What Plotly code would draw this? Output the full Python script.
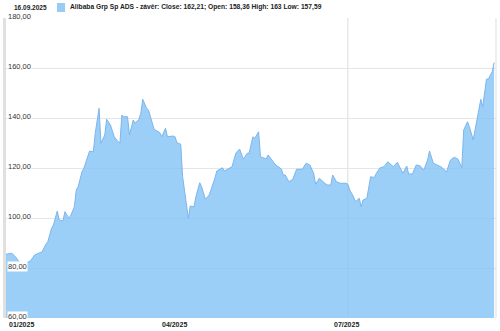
import plotly.graph_objects as go

dates = [
    "2025-01-02", "2025-01-05", "2025-01-07", "2025-01-09", "2025-01-10", "2025-01-13", "2025-01-15",
    "2025-01-17", "2025-01-20", "2025-01-21", "2025-01-23", "2025-01-24", "2025-01-26", "2025-01-27",
    "2025-01-29", "2025-01-30", "2025-02-01", "2025-02-02", "2025-02-04", "2025-02-05", "2025-02-07",
    "2025-02-08", "2025-02-09", "2025-02-11", "2025-02-12", "2025-02-14", "2025-02-15", "2025-02-17",
    "2025-02-18", "2025-02-20", "2025-02-21", "2025-02-23", "2025-02-24", "2025-02-26", "2025-02-28",
    "2025-03-02", "2025-03-03", "2025-03-04", "2025-03-05", "2025-03-07", "2025-03-08", "2025-03-10",
    "2025-03-11", "2025-03-13", "2025-03-14", "2025-03-15", "2025-03-17", "2025-03-18", "2025-03-20",
    "2025-03-21", "2025-03-24", "2025-03-25", "2025-03-27", "2025-03-28", "2025-03-31", "2025-04-01",
    "2025-04-02", "2025-04-04", "2025-04-05", "2025-04-07", "2025-04-08", "2025-04-09", "2025-04-11",
    "2025-04-12", "2025-04-14", "2025-04-15", "2025-04-17", "2025-04-19", "2025-04-20", "2025-04-22",
    "2025-04-23", "2025-04-26", "2025-04-27", "2025-04-29", "2025-05-01", "2025-05-03", "2025-05-05",
    "2025-05-07", "2025-05-09", "2025-05-10", "2025-05-12", "2025-05-13", "2025-05-15", "2025-05-16",
    "2025-05-19", "2025-05-20", "2025-05-22", "2025-05-24", "2025-05-27", "2025-05-28", "2025-05-29",
    "2025-05-31", "2025-06-02", "2025-06-04", "2025-06-07", "2025-06-09", "2025-06-11", "2025-06-13",
    "2025-06-14", "2025-06-16", "2025-06-18", "2025-06-20", "2025-06-22", "2025-06-23", "2025-06-25",
    "2025-06-27", "2025-06-30", "2025-07-01", "2025-07-02", "2025-07-04", "2025-07-05", "2025-07-07",
    "2025-07-08", "2025-07-09", "2025-07-11", "2025-07-13", "2025-07-15", "2025-07-16", "2025-07-18",
    "2025-07-20", "2025-07-22", "2025-07-24", "2025-07-25", "2025-07-27", "2025-07-29", "2025-07-30",
    "2025-08-01", "2025-08-02", "2025-08-04", "2025-08-06", "2025-08-08", "2025-08-10", "2025-08-12",
    "2025-08-13", "2025-08-15", "2025-08-17", "2025-08-19", "2025-08-22", "2025-08-24", "2025-08-26",
    "2025-08-28", "2025-08-30", "2025-08-31", "2025-09-02", "2025-09-03", "2025-09-05", "2025-09-06",
    "2025-09-08", "2025-09-09", "2025-09-10", "2025-09-12", "2025-09-13", "2025-09-15", "2025-09-16",
]

close = [
    85.5, 85.9, 84.5, 82.5, 81.2, 82.1, 82.9,
    85.2, 86.1, 86.5, 89.5, 90.5, 95.9, 97.2,
    102.8, 99.2, 98.8, 102.5, 100.1, 100.8, 104.5,
    111.2, 112.5, 118.5, 119.9, 124.5, 126.8, 126.5,
    133.9, 143.9, 129.9, 133.2, 139.5, 137.2, 132.5,
    130.5, 130.0, 141.2, 140.5, 140.5, 133.2, 139.2,
    137.9, 139.5, 141.9, 147.5, 143.9, 143.2, 137.9,
    135.5, 134.1, 132.5, 135.9, 132.5, 132.8, 132.5,
    130.1, 129.5, 116.5, 105.9, 99.9, 104.8, 104.5,
    108.5, 114.1, 112.5, 107.5, 109.2, 111.2, 115.9,
    118.8, 120.1, 118.8, 119.5, 120.5, 125.9, 127.6,
    123.5, 125.9, 125.9, 132.5, 131.9, 134.5, 124.5,
    123.6, 125.2, 123.2, 121.2, 119.6, 117.2, 117.2,
    114.5, 115.5, 119.5, 119.5, 121.9, 121.2, 117.9,
    113.5, 115.9, 114.5, 113.2, 113.2, 117.2, 114.5,
    113.9, 113.9, 113.5, 111.2, 108.5, 106.5, 107.9,
    104.5, 107.2, 107.9, 116.5, 116.2, 117.9, 120.1,
    120.5, 122.5, 121.2, 120.5, 122.3, 119.2, 117.9,
    120.8, 117.6, 117.6, 121.2, 120.9, 119.2, 123.2,
    126.8, 121.9, 121.2, 120.5, 118.5, 123.2, 124.3,
    123.5, 120.1, 135.2, 138.5, 136.5, 131.2, 135.2,
    142.5, 147.5, 144.5, 155.6, 155.6, 158.5, 162.21,
]

y_ticks = [60, 80, 100, 120, 140, 160, 180]
y_tick_labels = ["60,00", "80,00", "100,00", "120,00", "140,00", "160,00", "180,00"]
x_tick_dates = ["2025-01-02", "2025-04-01", "2025-07-01"]
x_tick_labels = ["01/2025", "04/2025", "07/2025"]

header_date = "16.09.2025"
header_text = "Alibaba Grp Sp ADS - závěr: Close: 162,21; Open: 158,36 High: 163 Low: 157,59"

FONT = "Liberation Sans, Arial, sans-serif"
L, R, T, B = 6, 4, 18, 13

fig = go.Figure()
fig.add_trace(go.Scatter(
    x=dates, y=close, mode="lines", fill="tozeroy",
    line=dict(color="#7CB5EC", width=1),
    fillcolor="rgba(130,195,245,0.8)",
    hoverinfo="skip", showlegend=False,
))

fig.update_layout(
    width=500, height=331,
    margin=dict(l=L, r=R, t=T, b=B),
    paper_bgcolor="white", plot_bgcolor="white",
    font=dict(family=FONT, size=7, color="#333333"),
    xaxis=dict(
        type="date", range=["2025-01-02", "2025-09-17"],
        showgrid=False, showticklabels=False, zeroline=False, showline=False,
    ),
    yaxis=dict(
        range=[60, 180], tickvals=y_ticks, showticklabels=False,
        showgrid=True, gridcolor="#e6e6e6", gridwidth=1, zeroline=False,
        showline=True, linecolor="#e0e0e0", linewidth=3,
    ),
)

# vertical grid line at 07/2025 and right border
fig.add_shape(type="line", xref="x", yref="paper", x0=x_tick_dates[2], x1=x_tick_dates[2],
              y0=0, y1=1, line=dict(color="#dddddd", width=1), layer="below")
fig.add_shape(type="line", xref="paper", yref="paper", x0=1, x1=1, y0=0, y1=1,
              line=dict(color="#dddddd", width=1), layer="above")

# y labels inside the plot with white background
for v, t in zip(y_ticks, y_tick_labels):
    fig.add_annotation(x=0, xref="paper", y=v, yref="y", text=t, showarrow=False,
                       xanchor="left", yanchor="middle", xshift=1, yshift=2,
                       bgcolor="white", borderpad=0,
                       font=dict(family=FONT, size=7.5, color="#333333"))

# x labels
for i, (d, t) in enumerate(zip(x_tick_dates, x_tick_labels)):
    fig.add_annotation(x=d, xref="x", y=0, yref="paper", text="<b>" + t + "</b>", showarrow=False,
                       xanchor="left" if i == 0 else "center", yanchor="top",
                       xshift=1 if i == 0 else -1, yshift=-1,
                       font=dict(family=FONT, size=7, color="#222222"))

# header
fig.add_annotation(x=0, xref="paper", y=1, yref="paper", text="<b>" + header_date + "</b>",
                   showarrow=False, xanchor="left", yanchor="middle", xshift=12 - L, yshift=11,
                   font=dict(family=FONT, size=6.5, color="#222222"))
fig.add_shape(type="rect", xref="paper", yref="paper", x0=(57 - L) / (500 - L - R),
              x1=(65 - L) / (500 - L - R), y0=1 + 6 / 300, y1=1 + 15 / 300,
              fillcolor="#9BCBF5", line=dict(width=0))
fig.add_annotation(x=0, xref="paper", y=1, yref="paper", text="<b>" + header_text + "</b>",
                   showarrow=False, xanchor="left", yanchor="middle", xshift=68 - L, yshift=11,
                   font=dict(family=FONT, size=6.7, color="#222222"))

fig.write_html("out.html")
